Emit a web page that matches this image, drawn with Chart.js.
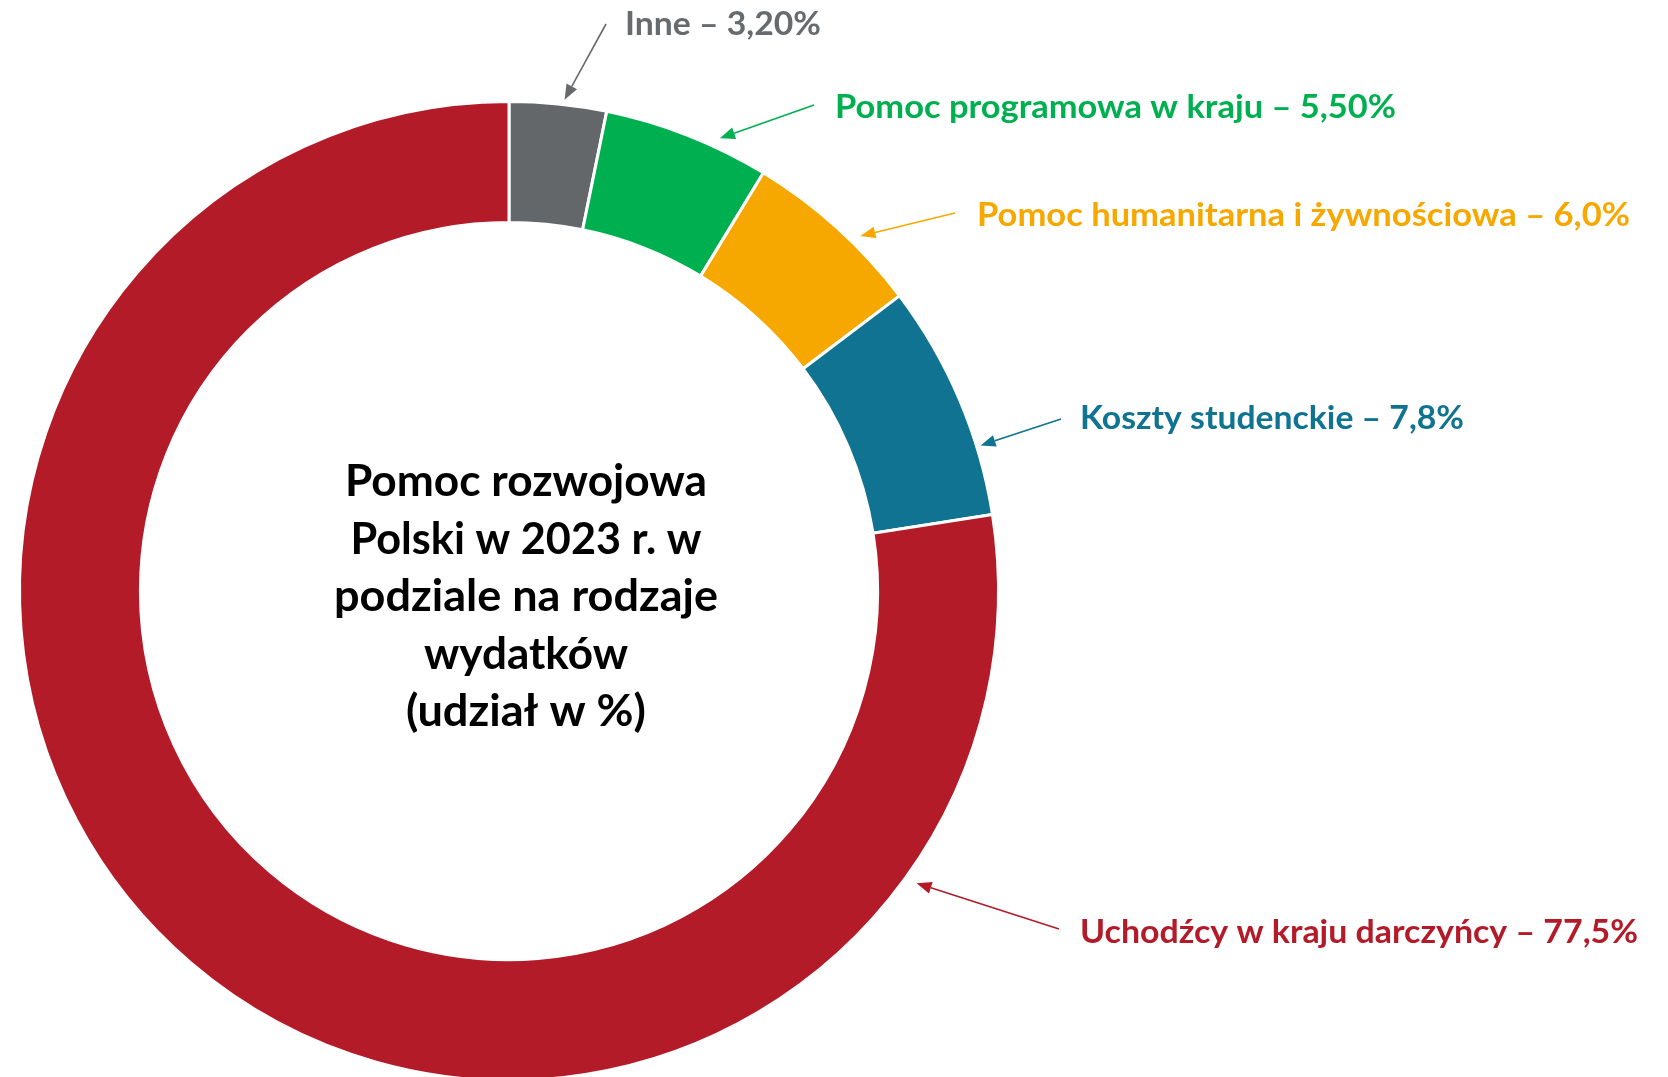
<!DOCTYPE html>
<html>
<head>
<meta charset="utf-8">
<script src="https://cdn.jsdelivr.net/npm/chart.js@4.4.1/dist/chart.umd.min.js"></script>
<style>
  html, body { margin: 0; padding: 0; background: #ffffff; overflow: hidden; }
  #wrap { width: 1668px; height: 1100px; position: relative; }
</style>
</head>
<body>
<div id="wrap"><canvas id="c" width="1668" height="1100"></canvas></div>
<script>
// ---- data ----
const categories = ['Inne', 'Pomoc programowa w kraju', 'Pomoc humanitarna i żywnościowa', 'Koszty studenckie', 'Uchodźcy w kraju darczyńcy'];
const shares = [3.2, 5.5, 6.0, 7.8, 77.5];
const shareLabels = ['3,20%', '5,50%', '6,0%', '7,8%', '77,5%'];
const titleLines = ['Pomoc rozwojowa', 'Polski w 2023 r. w', 'podziale na rodzaje', 'wydatków', '(udział w %)'];

// ---- style ----
const sliceColors = ['#63676A', '#00B050', '#F6A800', '#0F7391', '#B31B29'];
const textColors  = ['#676B6E', '#00B050', '#F6A800', '#0F7391', '#B31B29'];

// label layout: left x, baseline y, target text width, arrow start, arrow tip position (fraction along slice, gap beyond outer radius)
const labelLayout = [
  { x: 625, y: 35,  w: 196, from: [606, 24],   t: 0.56, gap: 5 },
  { x: 835, y: 118, w: 561, from: [814, 105],  t: 0.68, gap: 10 },
  { x: 977, y: 226, w: 653, from: [955, 213],  t: 0.62, gap: 10 },
  { x: 1080, y: 429, w: 384, from: [1061, 419], t: 0.71, gap: 4 },
  { x: 1080, y: 943, w: 558, from: [1059, 929], t: 0.16, gap: 12 }
];
const titleLayout = { cx: 526, baselines: [496, 554, 611, 669, 726], widths: [362, 351, 384, 204, 240] };

function drawFitted(ctx, text, x, y, targetW, align) {
  const natural = ctx.measureText(text).width;
  const sx = targetW / natural;
  ctx.save();
  ctx.translate(x, y);
  ctx.scale(sx, 1);
  ctx.textAlign = align;
  ctx.fillText(text, 0, 0);
  ctx.restore();
}

function drawArrow(ctx, x1, y1, x2, y2, color) {
  const ang = Math.atan2(y2 - y1, x2 - x1);
  const headLen = 15, headHalf = 6;
  const bx = x2 - headLen * Math.cos(ang), by = y2 - headLen * Math.sin(ang);
  ctx.save();
  ctx.strokeStyle = color;
  ctx.fillStyle = color;
  ctx.lineWidth = 1.6;
  ctx.beginPath();
  ctx.moveTo(x1, y1);
  ctx.lineTo(bx, by);
  ctx.stroke();
  ctx.beginPath();
  ctx.moveTo(x2, y2);
  ctx.lineTo(bx + headHalf * Math.sin(ang), by - headHalf * Math.cos(ang));
  ctx.lineTo(bx - headHalf * Math.sin(ang), by + headHalf * Math.cos(ang));
  ctx.closePath();
  ctx.fill();
  ctx.restore();
}

const annotationPlugin = {
  id: 'annotations',
  afterDraw(chart) {
    const ctx = chart.ctx;
    const meta = chart.getDatasetMeta(0);
    ctx.save();
    ctx.textBaseline = 'alphabetic';
    // callout labels with arrows
    ctx.font = 'bold 33px Lato, "Open Sans", sans-serif';
    meta.data.forEach((arc, i) => {
      const L = labelLayout[i];
      const p = arc.getProps(['x', 'y', 'startAngle', 'endAngle', 'outerRadius'], true);
      const a = p.startAngle + L.t * (p.endAngle - p.startAngle);
      const r = p.outerRadius + L.gap;
      const tx = p.x + r * Math.cos(a), ty = p.y + r * Math.sin(a);
      drawArrow(ctx, L.from[0], L.from[1], tx, ty, textColors[i]);
      ctx.fillStyle = textColors[i];
      drawFitted(ctx, categories[i] + ' – ' + shareLabels[i], L.x, L.y, L.w, 'left');
    });
    // centre title
    ctx.font = 'bold 43px Lato, "Open Sans", sans-serif';
    ctx.fillStyle = '#000000';
    titleLines.forEach((line, i) => {
      drawFitted(ctx, line, titleLayout.cx, titleLayout.baselines[i], titleLayout.widths[i], 'center');
    });
    ctx.restore();
  }
};

new Chart(document.getElementById('c'), {
  type: 'doughnut',
  data: {
    labels: categories,
    datasets: [{
      data: shares,
      backgroundColor: sliceColors,
      borderColor: '#ffffff',
      borderWidth: 3,
      hoverBorderWidth: 3,
      hoverOffset: 0,
      borderAlign: 'center'
    }]
  },
  options: {
    responsive: false,
    devicePixelRatio: 1,
    animation: false,
    events: [],
    cutout: '75.3%',
    rotation: 0,
    layout: { padding: { left: 18, top: 100, right: 668, bottom: 18 } },
    plugins: {
      legend: { display: false },
      tooltip: { enabled: false },
      title: { display: false }
    }
  },
  plugins: [annotationPlugin]
});
</script>
</body>
</html>
